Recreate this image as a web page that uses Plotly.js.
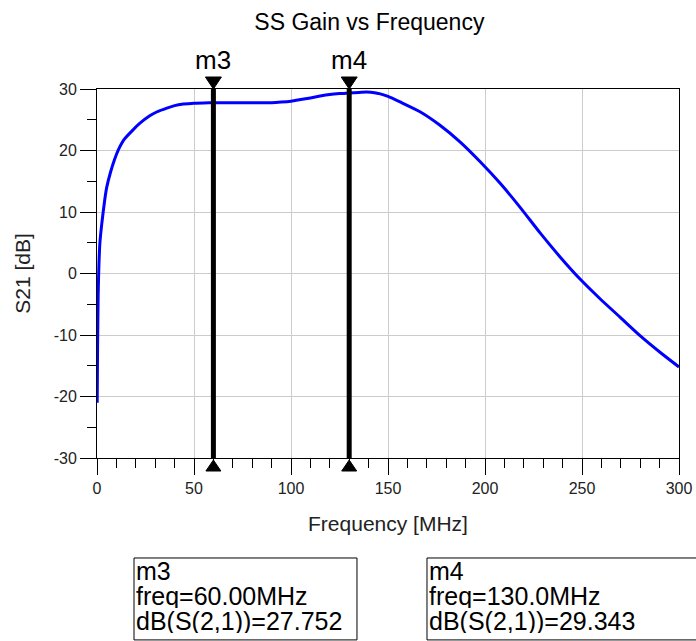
<!DOCTYPE html>
<html>
<head>
<meta charset="utf-8">
<script src="https://cdn.plot.ly/plotly-3.0.1.min.js"></script>
<style>html,body{margin:0;padding:0;background:#fff;}#chart{width:696px;height:641px;}</style>
</head>
<body>
<div id="chart"></div>
<script>
// ---- data ----
var freqMHz = [0.1, 0.3, 0.6, 1, 1.5, 2.5, 4, 5, 7, 9, 11, 14, 18.7, 22, 27, 31, 36, 40, 44.5, 50, 55, 60, 70, 80, 90, 95, 100, 105, 110, 115, 120, 125, 130, 135, 139, 143, 146, 150, 156.2, 166.5, 176.8, 187.1, 197.4, 207.7, 218, 228.4, 238.7, 249, 259.3, 269.6, 279.9, 290.2, 300];
var s21dB = [-21, -12, -3.5, 1.5, 5, 8.2, 12, 14, 16.5, 18.5, 20.1, 21.8, 23.4, 24.4, 25.6, 26.3, 26.9, 27.3, 27.55, 27.7, 27.74, 27.752, 27.75, 27.75, 27.77, 27.87, 28.02, 28.28, 28.55, 28.85, 29.1, 29.25, 29.343, 29.45, 29.5, 29.4, 29.2, 28.8, 27.9, 26.3, 24.1, 21.4, 18.2, 14.7, 10.8, 6.6, 2.7, -0.9, -4.1, -7.1, -10.1, -12.8, -15.2];

var markerNames = ['m3', 'm4'];
var markerFreq = [60, 130];
var markerGain = [27.752, 29.343];

var xTickVals = [0, 50, 100, 150, 200, 250, 300];
var yTickVals = [-30, -20, -10, 0, 10, 20, 30];

// ---- layout helpers ----
var FONT = '"Liberation Sans", Arial, sans-serif';
var boxLeft = [0.0636, 0.567];
var boxRight = [0.4467, 1.0825];
var boxTop = -0.271, boxBottom = -0.493;
var lineY = [-0.306, -0.374, -0.442];

var shapes = [];
var annotations = [];
for (var i = 0; i < markerNames.length; i++) {
  shapes.push({type: 'line', xref: 'x', yref: 'paper', x0: markerFreq[i], x1: markerFreq[i], y0: 0, y1: 1,
    line: {color: '#000', width: 5}, layer: 'above'});
  shapes.push({type: 'path', xref: 'x', xsizemode: 'pixel', xanchor: markerFreq[i],
    yref: 'paper', ysizemode: 'pixel', yanchor: 1,
    path: 'M-8,12 L8,12 L0,0 Z', fillcolor: '#000', line: {color: '#000', width: 1}, layer: 'above'});
  shapes.push({type: 'path', xref: 'x', xsizemode: 'pixel', xanchor: markerFreq[i],
    yref: 'paper', ysizemode: 'pixel', yanchor: 0,
    path: 'M-7.5,-13 L7.5,-13 L0,-2 Z', fillcolor: '#000', line: {color: '#000', width: 1}, layer: 'above'});
  annotations.push({xref: 'x', yref: 'paper', x: markerFreq[i], y: 1, yanchor: 'bottom', xanchor: 'center',
    yshift: 12, showarrow: false, text: markerNames[i], font: {family: FONT, size: 26, color: '#000'}});
  shapes.push({type: 'rect', xref: 'paper', yref: 'paper', x0: boxLeft[i], x1: boxRight[i], y0: boxTop, y1: boxBottom,
    line: {color: '#000', width: 1}, fillcolor: 'rgba(0,0,0,0)'});
  var lines = [markerNames[i], 'freq=' + markerFreq[i].toPrecision(4) + 'MHz', 'dB(S(2,1))=' + markerGain[i].toFixed(3)];
  for (var k = 0; k < lines.length; k++) {
    annotations.push({xref: 'paper', yref: 'paper', x: boxLeft[i] + 0.002, y: lineY[k], xanchor: 'left', yanchor: 'middle',
      height: 24, valign: 'middle', borderpad: 0,
      showarrow: false, text: lines[k], font: {family: FONT, size: 25, color: '#000'}});
  }
}

var trace = {
  x: freqMHz, y: s21dB, type: 'scatter', mode: 'lines',
  line: {color: '#0000ff', width: 3, shape: 'spline', smoothing: 0.6}, hoverinfo: 'skip'
};

var layout = {
  width: 696, height: 641,
  margin: {l: 97, r: 17, t: 89, b: 183, pad: 0},
  paper_bgcolor: '#fff', plot_bgcolor: '#fff',
  showlegend: false,
  font: {family: FONT, color: '#000'},
  title: {text: 'SS Gain vs Frequency', font: {family: FONT, size: 23, color: '#000'},
    xref: 'paper', x: 0.468, xanchor: 'center', y: 0.965, yanchor: 'middle'},
  xaxis: {
    range: [0, 300], tickmode: 'array', tickvals: xTickVals, ticktext: xTickVals.map(String),
    ticks: 'outside', ticklen: 16, tickwidth: 1, tickcolor: '#000',
    minor: {dtick: 10, tick0: 0, ticks: 'outside', ticklen: 9, tickwidth: 1, tickcolor: '#000', showgrid: false},
    showgrid: true, gridcolor: '#cccccc', gridwidth: 1, zeroline: false,
    showline: true, linecolor: '#000', linewidth: 1, mirror: true,
    tickfont: {family: FONT, size: 16, color: '#222'},
    title: {text: 'Frequency [MHz]', font: {family: FONT, size: 21, color: '#222'}, standoff: 20},
    automargin: false
  },
  yaxis: {
    range: [-30, 30], tickmode: 'array', tickvals: yTickVals, ticktext: yTickVals.map(String),
    ticks: 'outside', ticklen: 16, tickwidth: 1, tickcolor: '#000',
    minor: {dtick: 5, tick0: 0, ticks: 'outside', ticklen: 9, tickwidth: 1, tickcolor: '#000', showgrid: false},
    showgrid: true, gridcolor: '#cccccc', gridwidth: 1, zeroline: false,
    showline: true, linecolor: '#000', linewidth: 1, mirror: true,
    tickfont: {family: FONT, size: 16, color: '#222'},
    title: {text: 'S21 [dB]', font: {family: FONT, size: 21, color: '#222'}, standoff: 17},
    automargin: false
  },
  shapes: shapes,
  annotations: annotations
};

Plotly.newPlot('chart', [trace], layout, {displayModeBar: false, staticPlot: true});
</script>
</body>
</html>
